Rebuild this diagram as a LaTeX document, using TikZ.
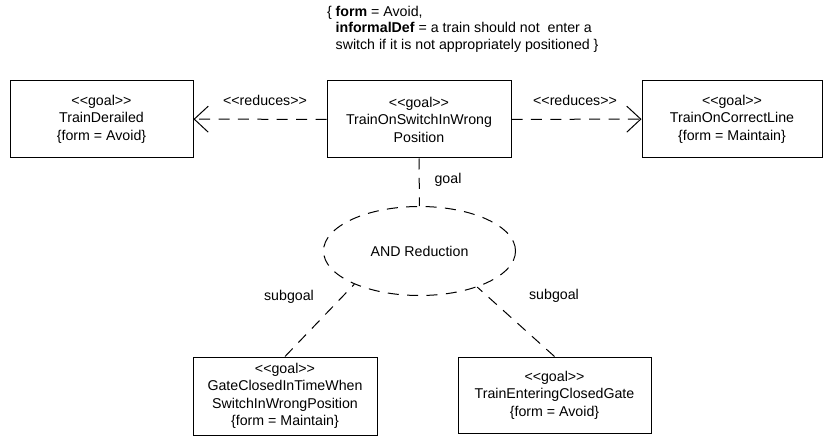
\documentclass[tikz,border=0pt]{standalone}
\usepackage{fontspec}
\setmainfont{Liberation Sans}
\usetikzlibrary{shapes.geometric,arrows.meta}
\newcommand{\stereo}[1]{<{}<#1>{}>}

\begin{document}
\begin{tikzpicture}[x=5pt,y=5pt,line width=0.5pt,font=\fontsize{7.1}{8.75}\selectfont]
\tikzstyle{every node}+=[inner sep=0pt]
\tikzstyle{goalbox}=[draw=black,align=center,minimum height=38.5pt]
\tikzstyle{uml dash}=[dash pattern=on 5.5pt off 4.2pt]
\tikzstyle{reduce arrow}=[uml dash,-{Straight Barb[length=7pt,width=13pt]}]
\useasboundingbox (0,0) rectangle (82.3,-43.8);
\node (note) [anchor=north west,align=left,font=\fontsize{7.1}{8.25}\selectfont] at (32.65,-0.55)
  {\{ \textbf{form} = Avoid,\\
   \phantom{\{ }\textbf{informalDef} = a train should not\ \ enter a\\
   \phantom{\{ }switch if it is not appropriately positioned \}};
\node (derailed) [goalbox,minimum width=91.5pt] at (10.15,-11.9) {\stereo{goal}\\TrainDerailed\\\{form = Avoid\}};
\node (wrongpos) [goalbox,minimum width=92pt] at (41.9,-11.95) {\stereo{goal}\\TrainOnSwitchInWrong\\Position};
\node (correctline) [goalbox,minimum width=90pt] at (73.2,-11.9) {\stereo{goal}\\TrainOnCorrectLine\\\{form = Maintain\}};
\node (andred) [draw=black,uml dash,ellipse,minimum width=96pt,minimum height=44.5pt] at (41.95,-25.1) {AND Reduction};
\node (gateclosed) [goalbox,minimum width=92pt,minimum height=39pt] at (28.5,-39.6) {\stereo{goal}\\GateClosedInTimeWhen\\SwitchInWrongPosition\\\{form = Maintain\}};
\node (enteringgate) [goalbox,minimum width=96.5pt,minimum height=38pt] at (55.45,-39.5) {\stereo{goal}\\TrainEnteringClosedGate\\\{form = Avoid\}};
\draw [black,reduce arrow] (wrongpos) -- (derailed);
\draw [black,reduce arrow] (wrongpos) -- (correctline);
\draw [black,uml dash] (wrongpos) -- (andred);
\draw [black,uml dash] (gateclosed.north) -- (andred.207);
\draw [black,uml dash] (enteringgate.north) -- (andred.-32);
\node (lblreduceL) at (26.5,-10.0) {\stereo{reduces}};
\node (lblreduceR) at (57.5,-10.0) {\stereo{reduces}};
\node (lblgoal) at (44.8,-18.0) {goal};
\node (lblsubL) at (28.9,-29.7) {subgoal};
\node (lblsubR) at (55.4,-29.6) {subgoal};
\end{tikzpicture}
\end{document}
